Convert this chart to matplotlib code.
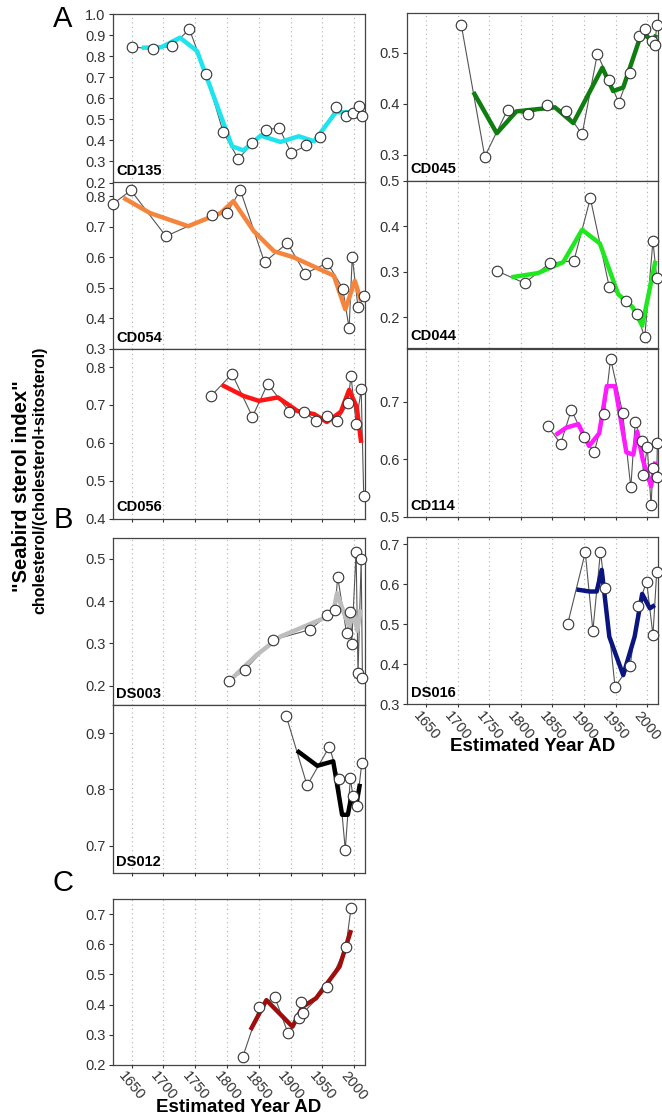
import numpy as np
import matplotlib
matplotlib.use("Agg")
import matplotlib.pyplot as plt

plt.rcParams["font.family"] = ["Liberation Sans", "DejaVu Sans"]

# ---- data (year AD, sterol index) ----
cd135_yr = [1651, 1684, 1713, 1741, 1767, 1794, 1818, 1840, 1862, 1882, 1901, 1925, 1946, 1972, 1987, 1998, 2008, 2012]
cd135_val = [0.846, 0.833, 0.849, 0.928, 0.715, 0.44, 0.311, 0.39, 0.451, 0.46, 0.34, 0.376, 0.416, 0.56, 0.518, 0.53, 0.566, 0.518]
cd135_s_yr = [1666, 1697, 1726, 1753, 1808, 1826, 1853, 1884, 1913, 1937, 1971, 1995, 2008]
cd135_s_val = [0.841, 0.844, 0.889, 0.825, 0.372, 0.353, 0.423, 0.393, 0.42, 0.396, 0.534, 0.534, 0.555]

cd054_yr = [1620, 1649, 1704, 1777, 1800, 1821, 1859, 1895, 1923, 1958, 1982, 1992, 1997, 2006, 2016]
cd054_val = [0.774, 0.819, 0.669, 0.738, 0.745, 0.82, 0.584, 0.647, 0.547, 0.582, 0.498, 0.368, 0.602, 0.436, 0.474]
cd054_s_yr = [1637, 1679, 1739, 1790, 1810, 1842, 1874, 1905, 1968, 1986, 1995, 2001, 2011]
cd054_s_val = [0.795, 0.745, 0.702, 0.745, 0.784, 0.686, 0.62, 0.6, 0.54, 0.43, 0.485, 0.523, 0.457]

cd056_yr = [1775, 1808, 1840, 1864, 1898, 1921, 1940, 1958, 1973, 1990, 1995, 2003, 2011, 2015]
cd056_val = [0.724, 0.782, 0.669, 0.756, 0.682, 0.682, 0.657, 0.67, 0.657, 0.704, 0.777, 0.651, 0.741, 0.46]
cd056_s_yr = [1792, 1826, 1850, 1880, 1911, 1937, 1957, 1979, 1992, 2004, 2011]
cd056_s_val = [0.753, 0.724, 0.711, 0.72, 0.684, 0.676, 0.655, 0.682, 0.74, 0.695, 0.6]

ds003_yr = [1803, 1828, 1872, 1930, 1958, 1970, 1974, 1988, 1994, 1996, 2003, 2006, 2011, 2013]
ds003_val = [0.21, 0.237, 0.308, 0.332, 0.367, 0.379, 0.458, 0.324, 0.373, 0.299, 0.517, 0.229, 0.499, 0.217]
ds003_s_yr = [1810, 1847, 1884, 1958, 1968, 1973, 1984, 1992, 1999, 2005, 2010]
ds003_s_val = [0.22, 0.273, 0.316, 0.363, 0.379, 0.419, 0.371, 0.34, 0.37, 0.33, 0.38]

ds012_yr = [1893, 1926, 1961, 1976, 1986, 1994, 1998, 2004, 2012]
ds012_val = [0.931, 0.807, 0.876, 0.818, 0.693, 0.82, 0.788, 0.77, 0.847]
ds012_s_yr = [1910, 1942, 1967, 1981, 1990, 1996, 2003, 2009]
ds012_s_val = [0.869, 0.842, 0.85, 0.755, 0.755, 0.79, 0.77, 0.81]

c_yr = [1825, 1851, 1875, 1896, 1913, 1917, 1920, 1958, 1987, 1995]
c_val = [0.228, 0.391, 0.426, 0.305, 0.355, 0.41, 0.373, 0.457, 0.592, 0.72]
c_s_yr = [1837, 1862, 1903, 1919, 1940, 1977, 1995]
c_s_val = [0.316, 0.415, 0.327, 0.393, 0.421, 0.526, 0.647]

cd045_yr = [1706, 1743, 1779, 1812, 1842, 1871, 1897, 1921, 1940, 1955, 1972, 1987, 1997, 2007, 2012, 2015]
cd045_val = [0.554, 0.296, 0.388, 0.379, 0.398, 0.385, 0.34, 0.498, 0.446, 0.402, 0.461, 0.533, 0.547, 0.523, 0.515, 0.554]
cd045_s_yr = [1725, 1762, 1793, 1854, 1883, 1929, 1946, 1962, 1991, 2010, 2014]
cd045_s_val = [0.423, 0.342, 0.385, 0.393, 0.362, 0.471, 0.425, 0.432, 0.539, 0.523, 0.536]

cd044_yr = [1762, 1806, 1846, 1884, 1910, 1940, 1967, 1984, 1996, 2009, 2015]
cd044_val = [0.302, 0.275, 0.319, 0.324, 0.461, 0.266, 0.237, 0.207, 0.156, 0.367, 0.286]
cd044_s_yr = [1785, 1827, 1867, 1897, 1925, 1954, 1977, 1992, 2013]
cd044_s_val = [0.288, 0.297, 0.321, 0.392, 0.362, 0.251, 0.222, 0.182, 0.324]

cd114_yr = [1843, 1863, 1880, 1900, 1916, 1932, 1942, 1961, 1974, 1981, 1991, 1994, 2000, 2006, 2009, 2015, 2016]
cd114_val = [0.657, 0.627, 0.686, 0.638, 0.612, 0.678, 0.775, 0.681, 0.551, 0.665, 0.631, 0.573, 0.622, 0.52, 0.584, 0.569, 0.628]
cd114_s_yr = [1855, 1872, 1891, 1908, 1924, 1936, 1949, 1967, 1978, 1984, 1993, 2006, 2013]
cd114_s_val = [0.642, 0.655, 0.661, 0.623, 0.645, 0.727, 0.727, 0.612, 0.608, 0.648, 0.599, 0.553, 0.596]

ds016_yr = [1874, 1902, 1914, 1926, 1933, 1949, 1973, 1986, 1999, 2009, 2015]
ds016_val = [0.5, 0.68, 0.484, 0.682, 0.59, 0.344, 0.397, 0.547, 0.607, 0.473, 0.632]
ds016_s_yr = [1888, 1909, 1920, 1928, 1940, 1962, 1980, 1992, 2004, 2012]
ds016_s_val = [0.587, 0.582, 0.582, 0.636, 0.469, 0.373, 0.469, 0.576, 0.54, 0.548]

year_ticks = [1650, 1700, 1750, 1800, 1850, 1900, 1950, 2000]

W, H = 662, 1115


def make_ax(fig, x0, x1, top, bottom):
    # pixel box -> figure fraction
    return fig.add_axes([x0 / W, 1 - bottom / H, (x1 - x0) / W, (bottom - top) / H])


def draw_panel(ax, name, yr, val, s_yr, s_val, color, ylim, yticks, bottom_labels=False):
    ax.set_xlim(1620, 2017)
    ax.set_ylim(*ylim)
    for t in year_ticks:
        ax.axvline(t, color="#b0b0b0", lw=0.8, ls=(0, (1, 3)), zorder=0)
    ax.plot(yr, val, color="#555555", lw=0.8, zorder=2)
    ax.plot(s_yr, s_val, color=color, lw=3.2, solid_capstyle="butt", zorder=3)
    ax.plot(yr, val, ls="none", marker="o", ms=7.6, mfc="white", mec="#333333",
            mew=0.8, zorder=4, clip_on=False)
    ax.set_yticks(yticks)
    ax.set_yticklabels([f"{v:.1f}" for v in yticks])
    ax.set_xticks(year_ticks)
    ax.tick_params(axis="y", labelsize=10.5, colors="#333333", length=3, width=0.8, pad=2)
    ax.tick_params(axis="x", labelsize=10.5, colors="#333333", length=2, width=0.8, pad=1)
    if bottom_labels:
        ax.set_xticklabels([str(t) for t in year_ticks], rotation=-50, ha="center", va="top")
        ax.set_xlabel("Estimated Year AD", fontsize=13.5, fontweight="bold", labelpad=-3)
    else:
        ax.set_xticklabels([])
    for sp in ax.spines.values():
        sp.set_color("#444444")
        sp.set_linewidth(0.9)
    ax.text(0.015, 0.025, name, transform=ax.transAxes, fontsize=10.5, fontweight="bold",
            ha="left", va="bottom", zorder=5)


fig = plt.figure(figsize=(W / 100, H / 100), dpi=100)

LX0, LX1 = 112.5, 365
RX0, RX1 = 407, 658

ax = make_ax(fig, LX0, LX1, 14.3, 182.5)
draw_panel(ax, "CD135", cd135_yr, cd135_val, cd135_s_yr, cd135_s_val, "#1ee4ee",
           (0.2, 1.0), np.arange(0.2, 1.01, 0.1))
ax = make_ax(fig, LX0, LX1, 182.5, 349)
draw_panel(ax, "CD054", cd054_yr, cd054_val, cd054_s_yr, cd054_s_val, "#f5853c",
           (0.3, 0.845), np.arange(0.3, 0.81, 0.1))
ax = make_ax(fig, LX0, LX1, 349, 518.5)
draw_panel(ax, "CD056", cd056_yr, cd056_val, cd056_s_yr, cd056_s_val, "#ff1414",
           (0.4, 0.848), np.arange(0.4, 0.81, 0.1))
ax = make_ax(fig, LX0, LX1, 537.7, 705)
draw_panel(ax, "DS003", ds003_yr, ds003_val, ds003_s_yr, ds003_s_val, "#bdbdbd",
           (0.154, 0.55), np.arange(0.2, 0.51, 0.1))
ax = make_ax(fig, LX0, LX1, 705, 873.3)
draw_panel(ax, "DS012", ds012_yr, ds012_val, ds012_s_yr, ds012_s_val, "#000000",
           (0.651, 0.95), np.arange(0.7, 0.91, 0.1))
ax = make_ax(fig, LX0, LX1, 899.3, 1065)
draw_panel(ax, "", c_yr, c_val, c_s_yr, c_s_val, "#a00d0d",
           (0.2, 0.749), np.arange(0.2, 0.71, 0.1), bottom_labels=True)

ax = make_ax(fig, RX0, RX1, 13.3, 180.5)
draw_panel(ax, "CD045", cd045_yr, cd045_val, cd045_s_yr, cd045_s_val, "#0f7d0f",
           (0.249, 0.578), np.arange(0.3, 0.51, 0.1))
ax = make_ax(fig, RX0, RX1, 180.5, 347.5)
draw_panel(ax, "CD044", cd044_yr, cd044_val, cd044_s_yr, cd044_s_val, "#1fe81f",
           (0.134, 0.5), np.arange(0.2, 0.51, 0.1))
ax = make_ax(fig, RX0, RX1, 349.3, 516.8)
draw_panel(ax, "CD114", cd114_yr, cd114_val, cd114_s_yr, cd114_s_val, "#ff1aff",
           (0.5, 0.791), np.arange(0.5, 0.71, 0.1))
ax = make_ax(fig, RX0, RX1, 536.7, 704.3)
draw_panel(ax, "DS016", ds016_yr, ds016_val, ds016_s_yr, ds016_s_val, "#0a1580",
           (0.3, 0.719), np.arange(0.3, 0.71, 0.1), bottom_labels=True)

# panel letters and shared y label
fig.text(63 / W, 1 - 19 / H, "A", fontsize=21, ha="center", va="center")
fig.text(63 / W, 1 - 520 / H, "B", fontsize=21, ha="center", va="center")
fig.text(63 / W, 1 - 883 / H, "C", fontsize=21, ha="center", va="center")
fig.text(22 / W, 1 - 486 / H, '"Seabird sterol index"', rotation=90, fontsize=14.5,
         fontweight="bold", ha="center", va="center")
fig.text(40 / W, 1 - 480 / H, "cholesterol/(cholesterol+sitosterol)", rotation=90,
         fontsize=11.5, fontweight="bold", ha="center", va="center")

fig.savefig("out.png", dpi=100)
